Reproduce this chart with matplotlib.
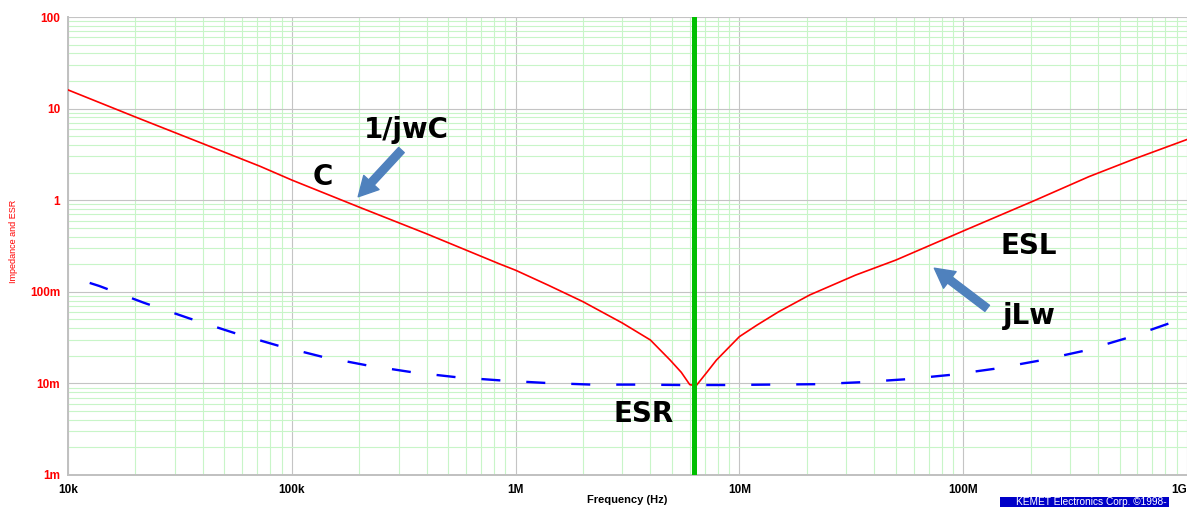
import matplotlib
matplotlib.use("Agg")
import matplotlib.pyplot as plt
from matplotlib.ticker import LogLocator, NullFormatter, FixedLocator
from matplotlib.patches import Rectangle
import numpy as np

plt.rcParams['font.family'] = ['Liberation Sans', 'DejaVu Sans']
plt.rcParams['lines.scale_dashes'] = False

# impedance |Z| (red)
z_freq = [1e4, 2e4, 4e4, 7.2e4, 1e5, 2e5, 4e5, 8.5e5, 1e6, 1.4e6, 2e6, 3e6,
          4e6, 4.9e6, 5.5e6, 6.0e6, 6.4e6, 7.1e6, 7.9e6, 1e7, 1.2e7, 1.5e7,
          2.06e7, 3.3e7, 5e7, 1e8, 2.1e8, 3.65e8, 5.9e8, 1e9]
z_vals = [16.0, 8.1, 4.15, 2.35, 1.66, 0.84, 0.43, 0.201, 0.172, 0.118, 0.078, 0.0456,
          0.0298, 0.018, 0.0132, 0.0097, 0.0094, 0.0129, 0.018, 0.0324, 0.0434, 0.0607,
          0.0923, 0.152, 0.222, 0.461, 1.0, 1.81, 2.86, 4.6]

# ESR (blue dashed)
esr_freq = [1.25e4, 1.38e4, 2.18e4, 3.48e4, 5.5e4, 8.7e4, 1.37e5, 2.18e5, 3.48e5,
            5.52e5, 8.93e5, 1.38e6, 2.19e6, 3.48e6, 5.49e6, 8.57e6, 1.36e7, 2.2e7,
            3.49e7, 5.55e7, 8.8e7, 1.37e8, 2.18e8, 3.44e8, 5.51e8, 8.75e8, 1e9]
esr_vals = [0.125, 0.1157, 0.076, 0.0513, 0.0357, 0.0258, 0.0195, 0.0157, 0.0132,
            0.01164, 0.0107, 0.0101, 0.0097, 0.0097, 0.0096, 0.0096, 0.0097, 0.0098,
            0.0103, 0.0111, 0.0124, 0.0144, 0.0177, 0.0226, 0.0318, 0.0472, 0.052]

f_res = 6.3e6  # green marker line

x_ticks = [1e4, 1e5, 1e6, 1e7, 1e8, 1e9]
x_labels = ['10k', '100k', '1M', '10M', '100M', '1G']
y_ticks = [1e-3, 1e-2, 1e-1, 1, 10, 100]
y_labels = ['1m', '10m', '100m', '1', '10', '100']

W, H = 1187, 507
fig = plt.figure(figsize=(W / 100, H / 100), dpi=100)
ax = fig.add_axes([68 / W, (H - 475) / H, (W - 68) / W, (475 - 17) / H])

ax.set_xscale('log')
ax.set_yscale('log')
ax.set_xlim(1e4, 1e9)
ax.set_ylim(1e-3, 1e2)

ax.xaxis.set_major_locator(FixedLocator(x_ticks))
ax.yaxis.set_major_locator(FixedLocator(y_ticks))
ax.set_xticklabels(x_labels)
ax.set_yticklabels(y_labels)
for axis in (ax.xaxis, ax.yaxis):
    axis.set_minor_locator(LogLocator(base=10, subs=np.arange(2, 10), numticks=100))
    axis.set_minor_formatter(NullFormatter())

ax.tick_params(which='both', length=0)
ax.tick_params(axis='x', pad=6.5, labelsize=8.5, labelcolor='black')
ax.tick_params(axis='y', pad=5.5, labelsize=8.5, labelcolor='red')
for lab in ax.get_xticklabels() + ax.get_yticklabels():
    lab.set_fontweight('bold')
for lab in ax.get_yticklabels():
    lab.set_y(lab.get_position()[1])
ax.get_xticklabels()[-1].set_ha('right')

ax.grid(which='major', color='#c4c4c4', lw=0.8)
ax.grid(which='minor', color='#c8f5c8', lw=0.8)
ax.set_axisbelow(True)
for s in ('top', 'right'):
    ax.spines[s].set_visible(False)
for s in ('left', 'bottom'):
    ax.spines[s].set_color('#c0c0c0')
    ax.spines[s].set_linewidth(1.4)

ax.plot(z_freq, z_vals, color='#ff0000', lw=1.2, zorder=3)
ax.plot(esr_freq, esr_vals, color='#0000ff', lw=1.7, dashes=(13.7, 18.7), zorder=3)
ax.axvline(f_res, color='#00c000', lw=3.6, zorder=4, solid_capstyle='round')

ax.set_xlabel('Frequency (Hz)', fontsize=8, fontweight='bold', va='center')
ax.xaxis.set_label_coords(0.5, -25 / 458)
ax.set_ylabel('Impedance and ESR', fontsize=6.5, color='red', va='center', ha='center')
ax.yaxis.set_label_coords(-54 / 1119, 0.51)

# annotations
txt = dict(fontsize=20, fontweight='bold', color='black', ha='center', va='center',
           zorder=5, family='DejaVu Sans')
ax.text(3.26e5, 5.84, '1/jwC', **txt)
ax.text(1.37e5, 1.79, 'C', **txt)
ax.text(3.73e6, 0.00464, 'ESR', **txt)
ax.text(1.97e8, 0.316, 'ESL', **txt)
ax.text(1.97e8, 0.055, 'jLw', **txt)

arrow = dict(arrowstyle='simple,head_length=1.4,head_width=1.5,tail_width=0.55',
             color='#4f81bd', shrinkA=0, shrinkB=0, mutation_scale=10)
ax.annotate('', xy=(1.98e5, 1.09), xytext=(3.09e5, 3.53), arrowprops=arrow, zorder=5)
ax.annotate('', xy=(7.43e7, 0.181), xytext=(1.28e8, 0.066), arrowprops=arrow, zorder=5)

# copyright strip
rect = Rectangle((1000 / W, 0), 169 / W, 10 / H, transform=fig.transFigure,
                 facecolor='#0000c8', edgecolor='none')
fig.patches.append(rect)
t = fig.text(1016 / W, 5 / H, 'KEMET Electronics Corp. \u00a91998-', color='white',
             fontsize=7.3, va='center', ha='left')
t.set_clip_path(rect)

fig.savefig('out.png', dpi=100)
